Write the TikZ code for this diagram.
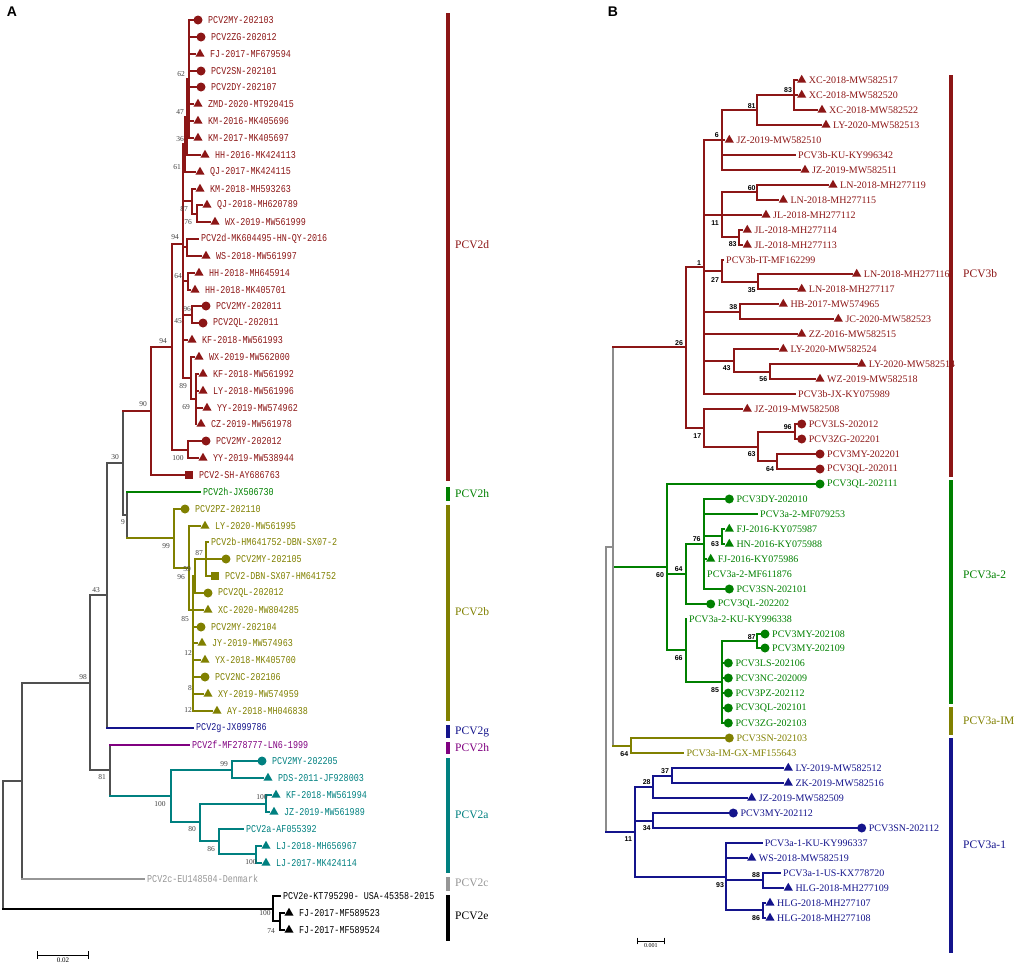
\documentclass[tikz,border=0pt]{standalone}
\usepackage{fontspec}
\setmainfont{Liberation Serif}
\setsansfont{Liberation Sans}
\newfontfamily\monoA[FakeStretch=0.8]{Liberation Mono}
\usetikzlibrary{shapes.geometric,positioning}

\definecolor{cred}{RGB}{140,22,22}
\definecolor{cgrn}{RGB}{0,128,0}
\definecolor{colv}{RGB}{128,128,0}
\definecolor{cnvy}{RGB}{20,20,140}
\definecolor{cpur}{RGB}{128,0,128}
\definecolor{ctea}{RGB}{0,128,128}
\definecolor{clgr}{RGB}{150,150,150}
\definecolor{gry}{RGB}{80,80,80}
\definecolor{gryB}{RGB}{140,140,140}

\tikzstyle{edg} = [line width=1.8pt, line cap=rect]
\tikzstyle{tri} = [regular polygon, regular polygon sides=3, minimum size=10.5pt, inner sep=0pt]
\tikzstyle{cir} = [circle, minimum size=9pt, inner sep=0pt]
\tikzstyle{sqr} = [rectangle, minimum size=7.5pt, inner sep=0pt]
\tikzstyle{lab} = [anchor=west, inner sep=0pt]
\tikzstyle{bsA} = [inner sep=0pt, text=black!75, font=\fontsize{7.5}{8}\selectfont]
\tikzstyle{bsB} = [inner sep=0pt, font=\sffamily\bfseries\fontsize{7}{8}\selectfont]
\tikzstyle{cbar} = [line width=3.5pt]
\tikzstyle{clade} = [anchor=west, inner sep=0pt, font=\fontsize{11.5}{13}\selectfont]

\newcommand{\leaf}[6]{% colour, name, tip x, row, marker, text
  \coordinate (#2) at (#3,{round(\ystart+\ystep*#4)});
  \node[#5, fill=#1] (#2m) at ([xshift=5pt]#2) {};
  \node[lab, text=#1] (#2t) at ([xshift=\labsep]#2) {#6};}
\newcommand{\bare}[5]{% colour, name, tip x, row, text
  \coordinate (#2) at (#3,{round(\ystart+\ystep*#4)});
  \node[lab, text=#1] (#2t) at ([xshift=3pt]#2) {#5};}
\newcommand{\inode}[3]{\coordinate (#1) at ({round(#2)},{round(\ystart+\ystep*#3)});}
\newcommand{\br}[4][]{\draw[edg,#2,#1] (#3) -- (#3 |- #4); \draw[edg,#2] (#3 |- #4) -- (#4);}

\begin{document}
\begin{tikzpicture}[x=1pt, y=-1pt]
\useasboundingbox (0,0) rectangle (1020,967);

% panel A
\begin{scope}[lab/.append style={font=\monoA\fontsize{10.5}{12}\selectfont}]
\def\ystart{20}\def\ystep{16.85}\def\labsep{15pt}
\leaf{cred}{a0}{193}{0}{cir}{PCV2MY-202103}
\leaf{cred}{a1}{196}{1}{cir}{PCV2ZG-202012}
\leaf{cred}{a2}{195}{2}{tri}{FJ-2017-MF679594}
\leaf{cred}{a3}{196}{3}{cir}{PCV2SN-202101}
\leaf{cred}{a4}{196}{4}{cir}{PCV2DY-202107}
\leaf{cred}{a5}{193}{5}{tri}{ZMD-2020-MT920415}
\leaf{cred}{a6}{193}{6}{tri}{KM-2016-MK405696}
\leaf{cred}{a7}{193}{7}{tri}{KM-2017-MK405697}
\leaf{cred}{a8}{200}{8}{tri}{HH-2016-MK424113}
\leaf{cred}{a9}{195}{9}{tri}{QJ-2017-MK424115}
\leaf{cred}{a10}{195}{10}{tri}{KM-2018-MH593263}
\leaf{cred}{a11}{202}{11}{tri}{QJ-2018-MH620789}
\leaf{cred}{a12}{210}{12}{tri}{WX-2019-MW561999}
\bare{cred}{a13}{198}{13}{PCV2d-MK604495-HN-QY-2016}
\leaf{cred}{a14}{201}{14}{tri}{WS-2018-MW561997}
\leaf{cred}{a15}{194}{15}{tri}{HH-2018-MH645914}
\leaf{cred}{a16}{190}{16}{tri}{HH-2018-MK405701}
\leaf{cred}{a17}{201}{17}{cir}{PCV2MY-202011}
\leaf{cred}{a18}{198}{18}{cir}{PCV2QL-202011}
\leaf{cred}{a19}{187}{19}{tri}{KF-2018-MW561993}
\leaf{cred}{a20}{194}{20}{tri}{WX-2019-MW562000}
\leaf{cred}{a21}{198}{21}{tri}{KF-2018-MW561992}
\leaf{cred}{a22}{198}{22}{tri}{LY-2018-MW561996}
\leaf{cred}{a23}{202}{23}{tri}{YY-2019-MW574962}
\leaf{cred}{a24}{196}{24}{tri}{CZ-2019-MW561978}
\leaf{cred}{a25}{201}{25}{cir}{PCV2MY-202012}
\leaf{cred}{a26}{198}{26}{tri}{YY-2019-MW538944}
\leaf{cred}{a27}{184}{27}{sqr}{PCV2-SH-AY686763}
\bare{cgrn}{a28}{200}{28}{PCV2h-JX506730}
\leaf{colv}{a29}{180}{29}{cir}{PCV2PZ-202110}
\leaf{colv}{a30}{200}{30}{tri}{LY-2020-MW561995}
\bare{colv}{a31}{208}{31}{PCV2b-HM641752-DBN-SX07-2}
\leaf{colv}{a32}{221}{32}{cir}{PCV2MY-202105}
\leaf{colv}{a33}{210}{33}{sqr}{PCV2-DBN-SX07-HM641752}
\leaf{colv}{a34}{203}{34}{cir}{PCV2QL-202012}
\leaf{colv}{a35}{203}{35}{tri}{XC-2020-MW804285}
\leaf{colv}{a36}{196}{36}{cir}{PCV2MY-202104}
\leaf{colv}{a37}{197}{37}{tri}{JY-2019-MW574963}
\leaf{colv}{a38}{200}{38}{tri}{YX-2018-MK405700}
\leaf{colv}{a39}{200}{39}{cir}{PCV2NC-202106}
\leaf{colv}{a40}{203}{40}{tri}{XY-2019-MW574959}
\leaf{colv}{a41}{212}{41}{tri}{AY-2018-MH046838}
\bare{cnvy}{a42}{193}{42}{PCV2g-JX099786}
\bare{cpur}{a43}{189}{43}{PCV2f-MF278777-LN6-1999}
\leaf{ctea}{a44}{257}{44}{cir}{PCV2MY-202205}
\leaf{ctea}{a45}{263}{45}{tri}{PDS-2011-JF928003}
\leaf{ctea}{a46}{271}{46}{tri}{KF-2018-MW561994}
\leaf{ctea}{a47}{269}{47}{tri}{JZ-2019-MW561989}
\bare{ctea}{a48}{243}{48}{PCV2a-AF055392}
\leaf{ctea}{a49}{261}{49}{tri}{LJ-2018-MH656967}
\leaf{ctea}{a50}{261}{50}{tri}{LJ-2017-MK424114}
\bare{clgr}{a51}{144}{51}{PCV2c-EU148504-Denmark}
\bare{black}{a52}{280}{52}{PCV2e-KT795290- USA-45358-2015}
\leaf{black}{a53}{284}{53}{tri}{FJ-2017-MF589523}
\leaf{black}{a54}{284}{54}{tri}{FJ-2017-MF589524}

\inode{n62}{189}{3.5}
\inode{n47}{186.5}{5.75}
\inode{n36}{184.5}{7.375}
\inode{n76}{196.7}{11.5}
\inode{n87}{191.7}{10.75}
\inode{n61}{183.3}{9.06}
\inode{nqy}{187.3}{13.5}
\inode{n64}{188.3}{15.5}
\inode{n96}{192}{17.5}
\inode{n69}{195.7}{22.5}
\inode{n89}{190.7}{21.25}
\inode{n94b}{182.5}{13.3}
\inode{n100a}{188}{25.5}
\inode{n94a}{172}{19.4}
\inode{n90}{151}{23.2}
\inode{n87b}{206}{32}
\inode{n59}{194.5}{33}
\inode{n85}{193}{35}
\inode{n96b}{189}{32.5}
\inode{n99}{174}{30.75}
\inode{nh9}{127}{29.375}
\inode{n30}{123}{26.29}
\inode{n43}{107}{34.15}
\inode{n99t}{232.3}{44.5}
\inode{n100c}{266}{46.5}
\inode{n100d}{256}{49.5}
\inode{n86}{219}{48.75}
\inode{n80}{200}{47.625}
\inode{n100b}{171}{46.06}
\inode{n81}{110}{44.53}
\inode{n98}{90}{39.34}
\inode{nA22}{22}{45.17}
\inode{nE74}{280}{53.5}
\inode{nE100}{273}{52.75}
\inode{rootA}{3}{48.96}

\foreach \k in {0,...,7} {\br{cred}{n62}{a\k}}
\br{cred}{n47}{n62} \br{cred}{n47}{a8}
\br{cred}{n36}{n47} \br{cred}{n36}{a9}
\br{cred}{n76}{a11} \br{cred}{n76}{a12}
\br{cred}{n87}{a10} \br{cred}{n87}{n76}
\br{cred}{n61}{n36} \br{cred}{n61}{n87}
\br{cred}{nqy}{a13} \br{cred}{nqy}{a14}
\br{cred}{n64}{a15} \br{cred}{n64}{a16}
\br{cred}{n96}{a17} \br{cred}{n96}{a18}
\foreach \k in {21,...,24} {\br{cred}{n69}{a\k}}
\br{cred}{n89}{a20} \br{cred}{n89}{n69}
\foreach \c in {n61,nqy,n64,n96,a19,n89} {\br{cred}{n94b}{\c}}
\br{cred}{n100a}{a25} \br{cred}{n100a}{a26}
\br{cred}{n94a}{n94b} \br{cred}{n94a}{n100a}
\br{cred}{n90}{n94a} \br{cred}{n90}{a27}
\br{colv}{n87b}{a31} \br{colv}{n87b}{a33}
\foreach \c in {a32,n87b,a34} {\br{colv}{n59}{\c}}
\foreach \c in {n59,a35,a36,a37,a38,a39,a40,a41} {\br{colv}{n85}{\c}}
\br{colv}{n96b}{a30} \br{colv}{n96b}{n85}
\br{colv}{n99}{a29} \br{colv}{n99}{n96b}
\br[gry]{cgrn}{nh9}{a28} \br[gry]{colv}{nh9}{n99}
\br[gry]{cred}{n30}{n90} \br{gry}{n30}{nh9}
\br{gry}{n43}{n30} \br[gry]{cnvy}{n43}{a42}
\br{ctea}{n99t}{a44} \br{ctea}{n99t}{a45}
\br{ctea}{n100c}{a46} \br{ctea}{n100c}{a47}
\br{ctea}{n100d}{a49} \br{ctea}{n100d}{a50}
\br{ctea}{n86}{a48} \br{ctea}{n86}{n100d}
\br{ctea}{n80}{n100c} \br{ctea}{n80}{n86}
\br{ctea}{n100b}{n99t} \br{ctea}{n100b}{n80}
\br[gry]{cpur}{n81}{a43} \br[gry]{ctea}{n81}{n100b}
\br{gry}{n98}{n43} \br{gry}{n98}{n81}
\br{gry}{nA22}{n98} \br[gry]{clgr}{nA22}{a51}
\br{black}{nE74}{a53} \br{black}{nE74}{a54}
\br{black}{nE100}{a52} \br{black}{nE100}{nE74}
\br{gry}{rootA}{nA22} \br[gry]{black}{rootA}{nE100}

\foreach \v/\x/\y [count=\i] in {62/181/74, 47/180/112, 36/180/139, 61/177/167,
  87/184/209, 76/188/222, 94/175/237, 64/178/276, 96/187/309, 45/178/321,
  94/163/341, 89/183/386, 69/186/407, 100/178/458, 90/143/404, 30/115/457,
  9/123/522, 99/166/546, 87/199/553, 59/187/569, 96/181/577, 85/185/619,
  12/188/653, 8/190/688, 12/188/710, 43/96/590, 98/83/677, 81/102/777,
  100/160/804, 99/224/764, 80/192/829, 86/211/849, 100/262/797, 100/251/862,
  100/265/913, 74/271/931}
  \node[bsA] (bA\i) at (\x,\y) {\v};

\foreach \col/\ya/\yb/\ym/\nm [count=\i] in {cred/13/481/245/PCV2d,
  cgrn/487/501/494/PCV2h, colv/505/721/612/PCV2b, cnvy/725/738/731.5/PCV2g,
  cpur/742/754/748/PCV2h, ctea/758/873/815/PCV2a, clgr/877/891/883/PCV2c,
  black/895/941/916/PCV2e}
  {\draw[cbar,\col] (448,\ya) -- (448,\yb);
   \node[clade,text=\col] (cA\i) at (455,\ym) {\nm};}

\coordinate (sA1) at (37,955);
\coordinate (sA2) at (89,955);
\draw[line width=0.8pt, |-|] (sA1) -- node[below=2pt, inner sep=0pt, font=\fontsize{7}{8}\selectfont] (sAt) {0.02} (sA2);
\node[font=\sffamily\bfseries\fontsize{14}{16}\selectfont] (pA) at (12,12) {A};
\end{scope}

% panel B
\begin{scope}[lab/.append style={font=\fontsize{10}{12}\selectfont}]
\def\ystart{80}\def\ystep{14.96}\def\labsep{12pt}
\leaf{cred}{b0}{796.7}{0}{tri}{XC-2018-MW582517}
\leaf{cred}{b1}{796.7}{1}{tri}{XC-2018-MW582520}
\leaf{cred}{b2}{817}{2}{tri}{XC-2018-MW582522}
\leaf{cred}{b3}{821}{3}{tri}{LY-2020-MW582513}
\leaf{cred}{b4}{724.3}{4}{tri}{JZ-2019-MW582510}
\bare{cred}{b5}{795}{5}{PCV3b-KU-KY996342}
\leaf{cred}{b6}{800}{6}{tri}{JZ-2019-MW582511}
\leaf{cred}{b7}{828}{7}{tri}{LN-2018-MH277119}
\leaf{cred}{b8}{778.3}{8}{tri}{LN-2018-MH277115}
\leaf{cred}{b9}{761}{9}{tri}{JL-2018-MH277112}
\leaf{cred}{b10}{742.3}{10}{tri}{JL-2018-MH277114}
\leaf{cred}{b11}{742.3}{11}{tri}{JL-2018-MH277113}
\bare{cred}{b12}{723}{12}{PCV3b-IT-MF162299}
\leaf{cred}{b13}{851.7}{13}{tri}{LN-2018-MH277116}
\leaf{cred}{b14}{796.7}{14}{tri}{LN-2018-MH277117}
\leaf{cred}{b15}{778.3}{15}{tri}{HB-2017-MW574965}
\leaf{cred}{b16}{833.3}{16}{tri}{JC-2020-MW582523}
\leaf{cred}{b17}{796.7}{17}{tri}{ZZ-2016-MW582515}
\leaf{cred}{b18}{778.3}{18}{tri}{LY-2020-MW582524}
\leaf{cred}{b19}{856.7}{19}{tri}{LY-2020-MW582514}
\leaf{cred}{b20}{815}{20}{tri}{WZ-2019-MW582518}
\bare{cred}{b21}{795}{21}{PCV3b-JX-KY075989}
\leaf{cred}{b22}{742.3}{22}{tri}{JZ-2019-MW582508}
\leaf{cred}{b23}{796.7}{23}{cir}{PCV3LS-202012}
\leaf{cred}{b24}{796.7}{24}{cir}{PCV3ZG-202201}
\leaf{cred}{b25}{815}{25}{cir}{PCV3MY-202201}
\leaf{cred}{b26}{815}{26}{cir}{PCV3QL-202011}
\leaf{cgrn}{b27}{815}{27}{cir}{PCV3QL-202111}
\leaf{cgrn}{b28}{724.3}{28}{cir}{PCV3DY-202010}
\bare{cgrn}{b29}{757}{29}{PCV3a-2-MF079253}
\leaf{cgrn}{b30}{724.3}{30}{tri}{FJ-2016-KY075987}
\leaf{cgrn}{b31}{724.3}{31}{tri}{HN-2016-KY075988}
\leaf{cgrn}{b32}{705.7}{32}{tri}{FJ-2016-KY075986}
\bare{cgrn}{b33}{704}{33}{PCV3a-2-MF611876}
\leaf{cgrn}{b34}{724.3}{34}{cir}{PCV3SN-202101}
\leaf{cgrn}{b35}{705.7}{35}{cir}{PCV3QL-202202}
\bare{cgrn}{b36}{686}{36}{PCV3a-2-KU-KY996338}
\leaf{cgrn}{b37}{760}{37}{cir}{PCV3MY-202108}
\leaf{cgrn}{b38}{760}{38}{cir}{PCV3MY-202109}
\leaf{cgrn}{b39}{723.3}{39}{cir}{PCV3LS-202106}
\leaf{cgrn}{b40}{723.3}{40}{cir}{PCV3NC-202009}
\leaf{cgrn}{b41}{723.3}{41}{cir}{PCV3PZ-202112}
\leaf{cgrn}{b42}{723.3}{42}{cir}{PCV3QL-202101}
\leaf{cgrn}{b43}{723.3}{43}{cir}{PCV3ZG-202103}
\leaf{colv}{b44}{724.3}{44}{cir}{PCV3SN-202103}
\bare{colv}{b45}{683.3}{45}{PCV3a-IM-GX-MF155643}
\leaf{cnvy}{b46}{783.3}{46}{tri}{LY-2019-MW582512}
\leaf{cnvy}{b47}{783.3}{47}{tri}{ZK-2019-MW582516}
\leaf{cnvy}{b48}{746.7}{48}{tri}{JZ-2019-MW582509}
\leaf{cnvy}{b49}{728.3}{49}{cir}{PCV3MY-202112}
\leaf{cnvy}{b50}{856.7}{50}{cir}{PCV3SN-202112}
\bare{cnvy}{b51}{761.7}{51}{PCV3a-1-KU-KY996337}
\leaf{cnvy}{b52}{746.7}{52}{tri}{WS-2018-MW582519}
\bare{cnvy}{b53}{780}{53}{PCV3a-1-US-KX778720}
\leaf{cnvy}{b54}{783.3}{54}{tri}{HLG-2018-MH277109}
\leaf{cnvy}{b55}{765}{55}{tri}{HLG-2018-MH277107}
\leaf{cnvy}{b56}{765}{56}{tri}{HLG-2018-MH277108}

\inode{m83}{794.3}{1}
\inode{m81}{757.3}{2}
\inode{m6}{722.3}{4}
\inode{m60}{757.3}{7.5}
\inode{m83b}{739.3}{10.5}
\inode{m11}{722.3}{9}
\inode{m35}{758.3}{13.5}
\inode{m27}{722.3}{12.75}
\inode{m38}{740}{15.5}
\inode{m56}{770}{19.5}
\inode{m43}{734}{18.75}
\inode{m1}{704}{12.5}
\inode{m96}{795}{23.5}
\inode{m64}{776.7}{25.5}
\inode{m63}{758.3}{24.5}
\inode{m17}{704}{23.25}
\inode{m26}{686}{17.875}
\inode{m63c}{721.7}{30.5}
\inode{m76}{704}{31}
\inode{m64d}{686}{33}
\inode{m87}{757.3}{37.5}
\inode{m85}{721.7}{40.25}
\inode{m66}{686}{38.125}
\inode{m60g}{666.7}{32.56}
\inode{m64c}{630.7}{44.5}
\inode{mR2}{612.5}{31.19}
\inode{m37}{671.7}{46.5}
\inode{m28}{653.3}{47.25}
\inode{m34}{653.3}{49.5}
\inode{m88}{762.7}{53.5}
\inode{m86}{763.3}{55.5}
\inode{m93}{726}{53.25}
\inode{m11b}{635}{50.25}
\inode{rootB}{605.5}{40.72}

\foreach \k in {0,1,2} {\br{cred}{m83}{b\k}}
\br{cred}{m81}{m83} \br{cred}{m81}{b3}
\foreach \c in {m81,b4,b5,b6} {\br{cred}{m6}{\c}}
\br{cred}{m60}{b7} \br{cred}{m60}{b8}
\br{cred}{m83b}{b10} \br{cred}{m83b}{b11}
\foreach \c in {m60,b9,m83b} {\br{cred}{m11}{\c}}
\br{cred}{m35}{b13} \br{cred}{m35}{b14}
\br{cred}{m27}{b12} \br{cred}{m27}{m35}
\br{cred}{m38}{b15} \br{cred}{m38}{b16}
\br{cred}{m56}{b19} \br{cred}{m56}{b20}
\br{cred}{m43}{b18} \br{cred}{m43}{m56}
\foreach \c in {m6,m11,m27,m38,b17,m43,b21} {\br{cred}{m1}{\c}}
\br{cred}{m96}{b23} \br{cred}{m96}{b24}
\br{cred}{m64}{b25} \br{cred}{m64}{b26}
\br{cred}{m63}{m96} \br{cred}{m63}{m64}
\br{cred}{m17}{b22} \br{cred}{m17}{m63}
\br{cred}{m26}{m1} \br{cred}{m26}{m17}
\br{cgrn}{m63c}{b30} \br{cgrn}{m63c}{b31}
\foreach \c in {b28,b29,m63c,b32,b33,b34} {\br{cgrn}{m76}{\c}}
\br{cgrn}{m64d}{m76} \br{cgrn}{m64d}{b35}
\br{cgrn}{m87}{b37} \br{cgrn}{m87}{b38}
\foreach \c in {m87,b39,b40,b41,b42,b43} {\br{cgrn}{m85}{\c}}
\br{cgrn}{m66}{b36} \br{cgrn}{m66}{m85}
\foreach \c in {b27,m64d,m66} {\br{cgrn}{m60g}{\c}}
\br{colv}{m64c}{b44} \br{colv}{m64c}{b45}
\br[gryB]{cred}{mR2}{m26} \br[gryB]{cgrn}{mR2}{m60g} \br[gryB]{colv}{mR2}{m64c}
\br{cnvy}{m37}{b46} \br{cnvy}{m37}{b47}
\br{cnvy}{m28}{m37} \br{cnvy}{m28}{b48}
\br{cnvy}{m34}{b49} \br{cnvy}{m34}{b50}
\br{cnvy}{m88}{b53} \br{cnvy}{m88}{b54}
\br{cnvy}{m86}{b55} \br{cnvy}{m86}{b56}
\foreach \c in {b51,b52,m88,m86} {\br{cnvy}{m93}{\c}}
\foreach \c in {m28,m34,m93} {\br{cnvy}{m11b}{\c}}
\br{gryB}{rootB}{mR2} \br[gryB]{cnvy}{rootB}{m11b}

\foreach \v/\x/\y [count=\i] in {83/788/90, 81/751.7/105.7, 6/716.7/135,
  60/751.7/188.3, 11/715/222.7, 83/732.7/244.3, 1/699/262.7, 27/715/280,
  35/751.7/290, 38/733.3/307.3, 26/679/342.7, 43/726.7/368.3, 56/763.3/379.3,
  17/697.3/435.7, 96/787.7/427.3, 63/751.7/454.3, 64/770/469, 76/696.7/539,
  63/715/544, 64/678.7/569.3, 60/660/575, 87/751.7/636.7, 66/678.7/658.3,
  85/715/690, 64/624.3/754, 37/665/770.7, 28/646.7/782.3, 34/646.7/828.3,
  11/628.3/839.3, 88/756/875, 93/720/885, 86/756/917.7}
  \node[bsB] (bB\i) at (\x,\y) {\v};

\foreach \col/\ya/\yb/\ym/\nm [count=\i] in {cred/75/477/274/PCV3b,
  cgrn/480/704/575/PCV3a-2, colv/707/735/721/PCV3a-IM, cnvy/738/953/845/PCV3a-1}
  {\draw[cbar,\col] (951,\ya) -- (951,\yb);
   \node[clade,text=\col] (cB\i) at (963,\ym) {\nm};}

\coordinate (sB1) at (636.7,941);
\coordinate (sB2) at (665,941);
\draw[line width=0.7pt, |-|] (sB1) -- node[below=2pt, inner sep=0pt, font=\fontsize{6}{7}\selectfont] (sBt) {0.001} (sB2);
\node[font=\sffamily\bfseries\fontsize{14}{16}\selectfont] (pB) at (613,12) {B};
\end{scope}
\end{tikzpicture}
\end{document}
